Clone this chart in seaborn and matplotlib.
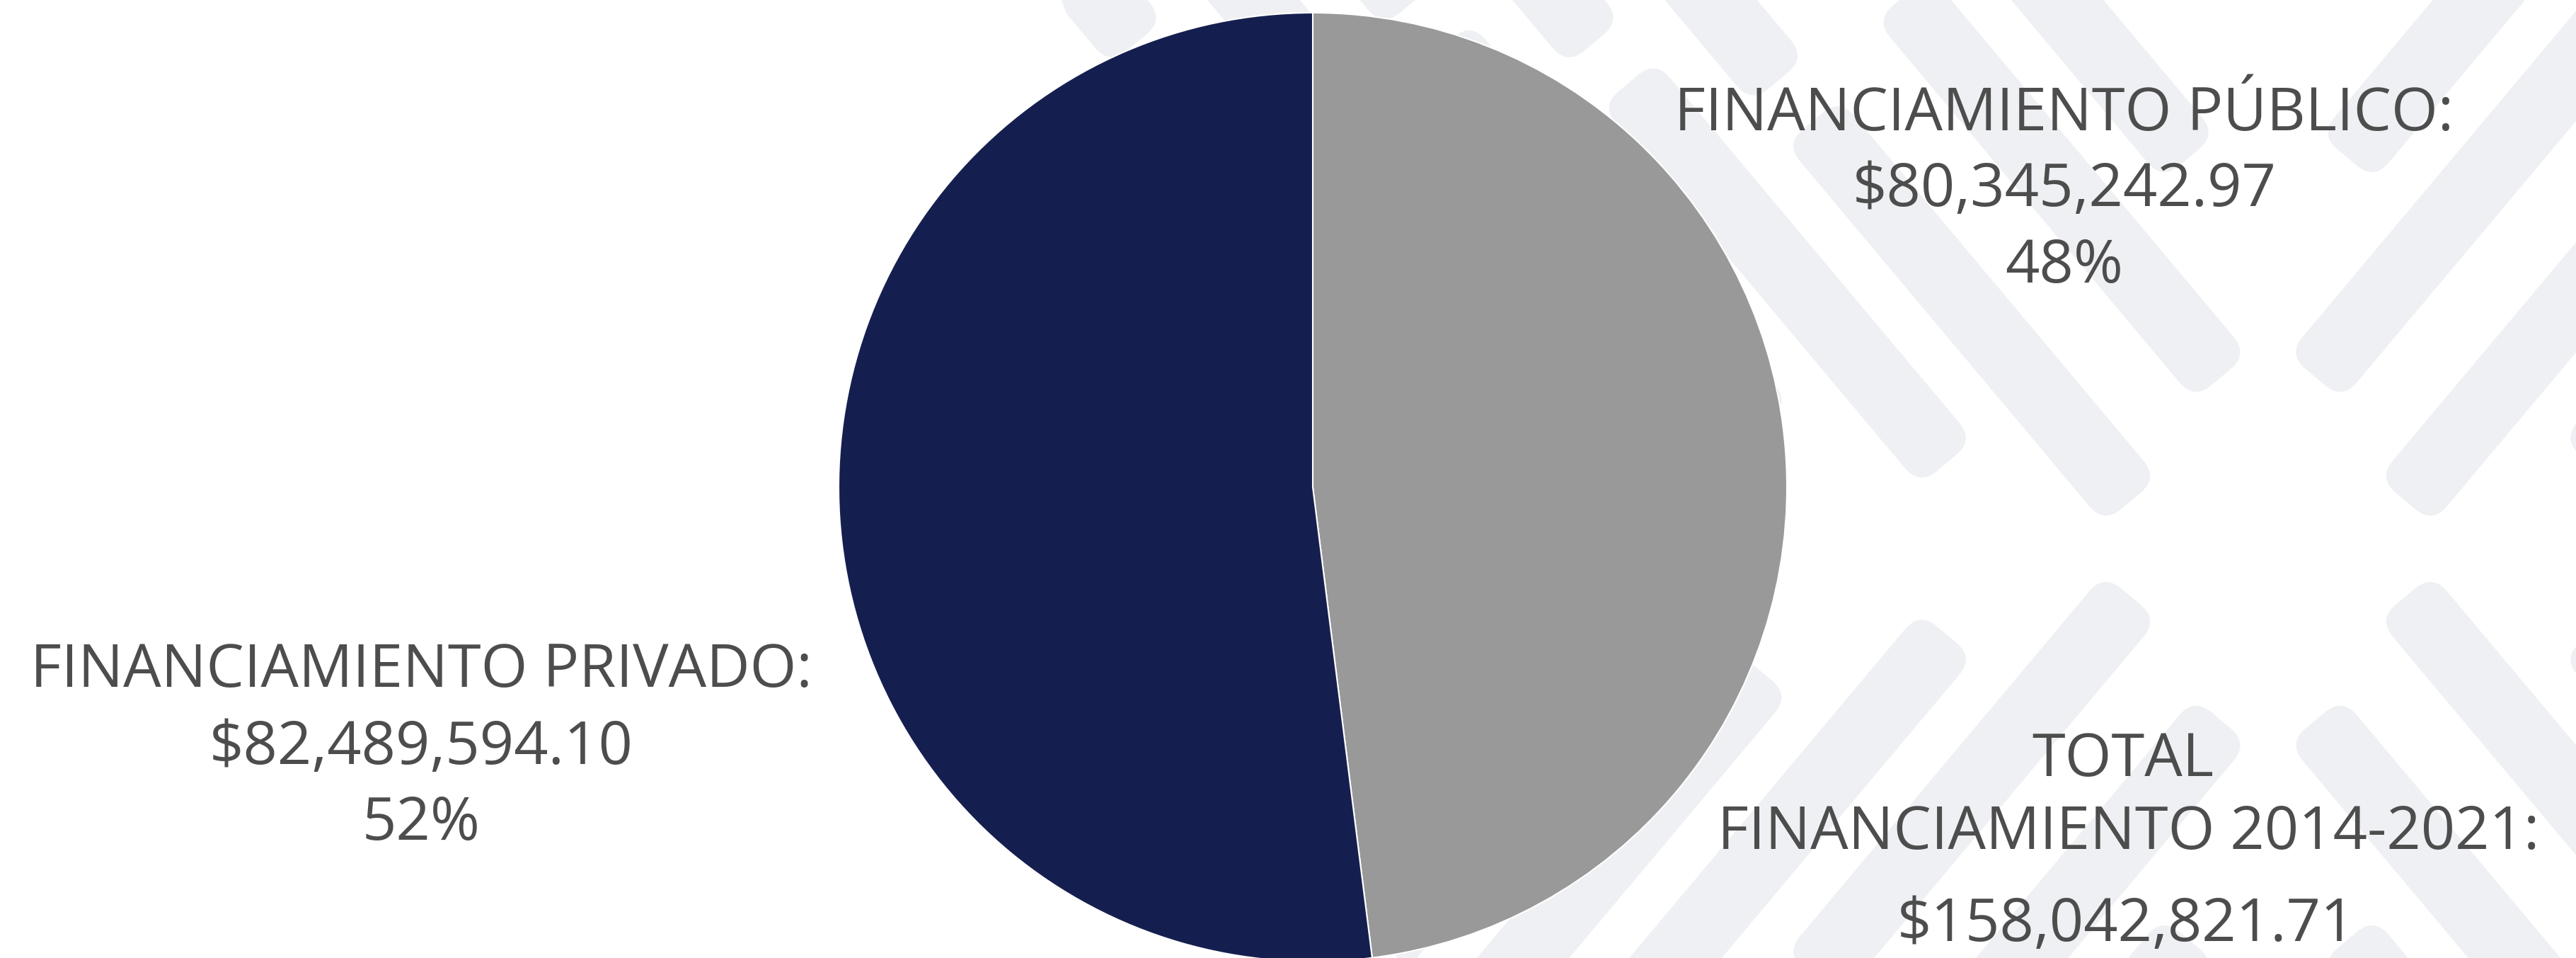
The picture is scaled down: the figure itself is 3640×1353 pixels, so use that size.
import numpy as np
import matplotlib
matplotlib.use("Agg")
import matplotlib.pyplot as plt
import matplotlib.patches as mpatches
import matplotlib.transforms as mtransforms
import seaborn as sns

# ── data ──
categorias = ["FINANCIAMIENTO PÚBLICO", "FINANCIAMIENTO PRIVADO"]
montos = [80345242.97, 82489594.10]
porcentajes = [48, 52]
colores = ["#999999", "#151f4f"]
total_titulo = ["TOTAL", "FINANCIAMIENTO 2014-2021:"]
total_monto = 158042821.71

sns.set_theme(style="white")
plt.rcParams["font.family"] = ["Open Sans", "DejaVu Sans"]

W, H = 3640, 1353
fig = plt.figure(figsize=(W / 100, H / 100), dpi=100)
fig.patch.set_facecolor("white")

# ── background pattern: X made of bundles of rounded bars (decoration) ──
bg = fig.add_axes([0, 0, 1, 1], zorder=0)
bg.set_xlim(0, W)
bg.set_ylim(H, 0)
bg.axis("off")

# pattern only on the right side of a slanted line
clip = mpatches.Polygon([(1500, 0), (W, 0), (W, H), (1500 + 0.35 * H, H)],
                        closed=True, transform=bg.transData, facecolor="none", edgecolor="none")
bg.add_patch(clip)

cx, cy = 3205, 775
band, bar_w, pitch, bar_len, gap = 110, 100, 165, 700, 75
ang = 50
c, s = np.cos(np.deg2rad(ang)), np.sin(np.deg2rad(ang))
# arm directions (image coords, y down) per quadrant
arms = {(-1, -1): (-c, -s), (1, 1): (c, s), (1, -1): (c, -s), (-1, 1): (-c, s)}
for (qx, qy), (ux, uy) in arms.items():
    nx, ny = -uy, ux
    for side in (-1, 1):
        for k in range(9):
            perp = side * (band / 2 + bar_w / 2 + k * pitch)
            ox, oy = perp * nx, perp * ny
            # first t where the bar axis enters the quadrant (with margin)
            tmin = 0.0
            for o, u, q in ((ox, ux, qx), (oy, uy, qy)):
                need = (bar_w * 0.6 - q * o) / (q * u)
                tmin = max(tmin, need)
            t = tmin + 10 + (k % 3) * 70
            for j in range(6):
                mid = t + bar_len / 2
                px, py = cx + ox + mid * ux, cy + oy + mid * uy
                t += bar_len + gap
                if px < -400 or px > W + 400 or py < -400 or py > H + 400:
                    continue
                rect = mpatches.FancyBboxPatch((px - bar_len / 2, py - bar_w / 2), bar_len, bar_w,
                                               boxstyle="round,pad=0,rounding_size=32",
                                               facecolor="#eef0f3", edgecolor="none")
                rot = np.degrees(np.arctan2(uy, ux))
                rect.set_transform(mtransforms.Affine2D().rotate_deg_around(px, py, rot) + bg.transData)
                bg.add_patch(rect)
                rect.set_clip_path(clip)

# ── pie ──
pcx, pcy, r = 1855, 688, 670
ax = fig.add_axes([(pcx - r) / W, (H - pcy - r) / H, 2 * r / W, 2 * r / H], zorder=1)
ax.pie(porcentajes, colors=colores, startangle=90, counterclock=False,
       wedgeprops=dict(edgecolor="white", linewidth=1.5))
ax.set_xlim(-1, 1)
ax.set_ylim(-1, 1)
ax.set_aspect("auto")
ax.axis("off")
for p in ax.patches:
    p.set_clip_on(False)

txt = dict(color="#4d4d4d", fontsize=61, ha="center", va="baseline", zorder=3)

def put(x, y, s):
    fig.text(x / W, 1 - y / H, s, **txt)

# público
put(2917, 184, categorias[0] + ":")
put(2917, 291, f"${montos[0]:,.2f}")
put(2917, 399, f"{porcentajes[0]}%")
# privado
put(595, 970, categorias[1] + ":")
put(595, 1079, f"${montos[1]:,.2f}")
put(595, 1186, f"{porcentajes[1]}%")
# total
put(3000, 1096, total_titulo[0])
put(3008, 1199, total_titulo[1])
put(3005, 1329, f"${total_monto:,.2f}")

fig.savefig("out.png", dpi=100, facecolor="white")
